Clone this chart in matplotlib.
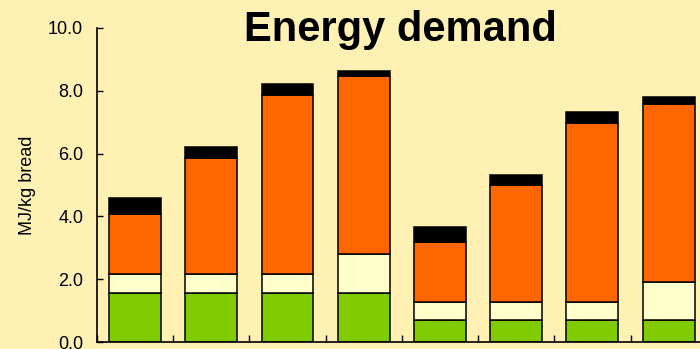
import numpy as np
import matplotlib.pyplot as plt

plt.rcParams['font.family'] = ['Liberation Sans', 'DejaVu Sans']

# stacked segments, bottom to top (MJ/kg bread)
green = [1.55, 1.55, 1.55, 1.55, 0.70, 0.70, 0.70, 0.70]
cream = [0.63, 0.63, 0.63, 1.24, 0.58, 0.58, 0.58, 1.22]
orange = [1.88, 3.69, 5.70, 5.69, 1.90, 3.71, 5.70, 5.67]
black = [0.51, 0.34, 0.32, 0.15, 0.49, 0.34, 0.34, 0.21]
yticks = [0.0, 2.0, 4.0, 6.0, 8.0, 10.0]

bg = '#FFF0B4'
fig = plt.figure(figsize=(7, 3.49), dpi=100, facecolor=bg)
ax = fig.add_axes([0.1386, 0.0200, 0.871, 0.900])
ax.set_facecolor(bg)

X = np.arange(len(green))
bottom = np.zeros(len(green))
for vals, col in [(green, '#80CC00'), (cream, '#FFFFCC'), (orange, '#FF6600'), (black, '#000000')]:
    ax.bar(X, vals, bottom=bottom, width=0.68, color=col, edgecolor='black', linewidth=1.1)
    bottom += np.array(vals)

ax.set_xlim(-0.5, 7.5)
ax.set_ylim(0, 10)
ax.set_yticks(yticks)
ax.set_yticklabels(['%.1f' % v for v in yticks], fontsize=13)
ax.set_xticks(np.arange(-0.5, 8, 1.0))
ax.set_xticklabels([])
ax.tick_params(axis='y', direction='in', length=4, width=1.0, pad=10)
ax.tick_params(axis='x', direction='in', length=5, width=1.0)
for s in ['top', 'right']:
    ax.spines[s].set_visible(False)
for s in ['left', 'bottom']:
    ax.spines[s].set_linewidth(1.2)

ax.set_ylabel('MJ/kg bread', fontsize=13, labelpad=9)
fig.text(0.572, 0.913, 'Energy demand', fontsize=30, fontweight='bold', ha='center', va='center')

fig.savefig('out.png', dpi=100, facecolor=bg)
